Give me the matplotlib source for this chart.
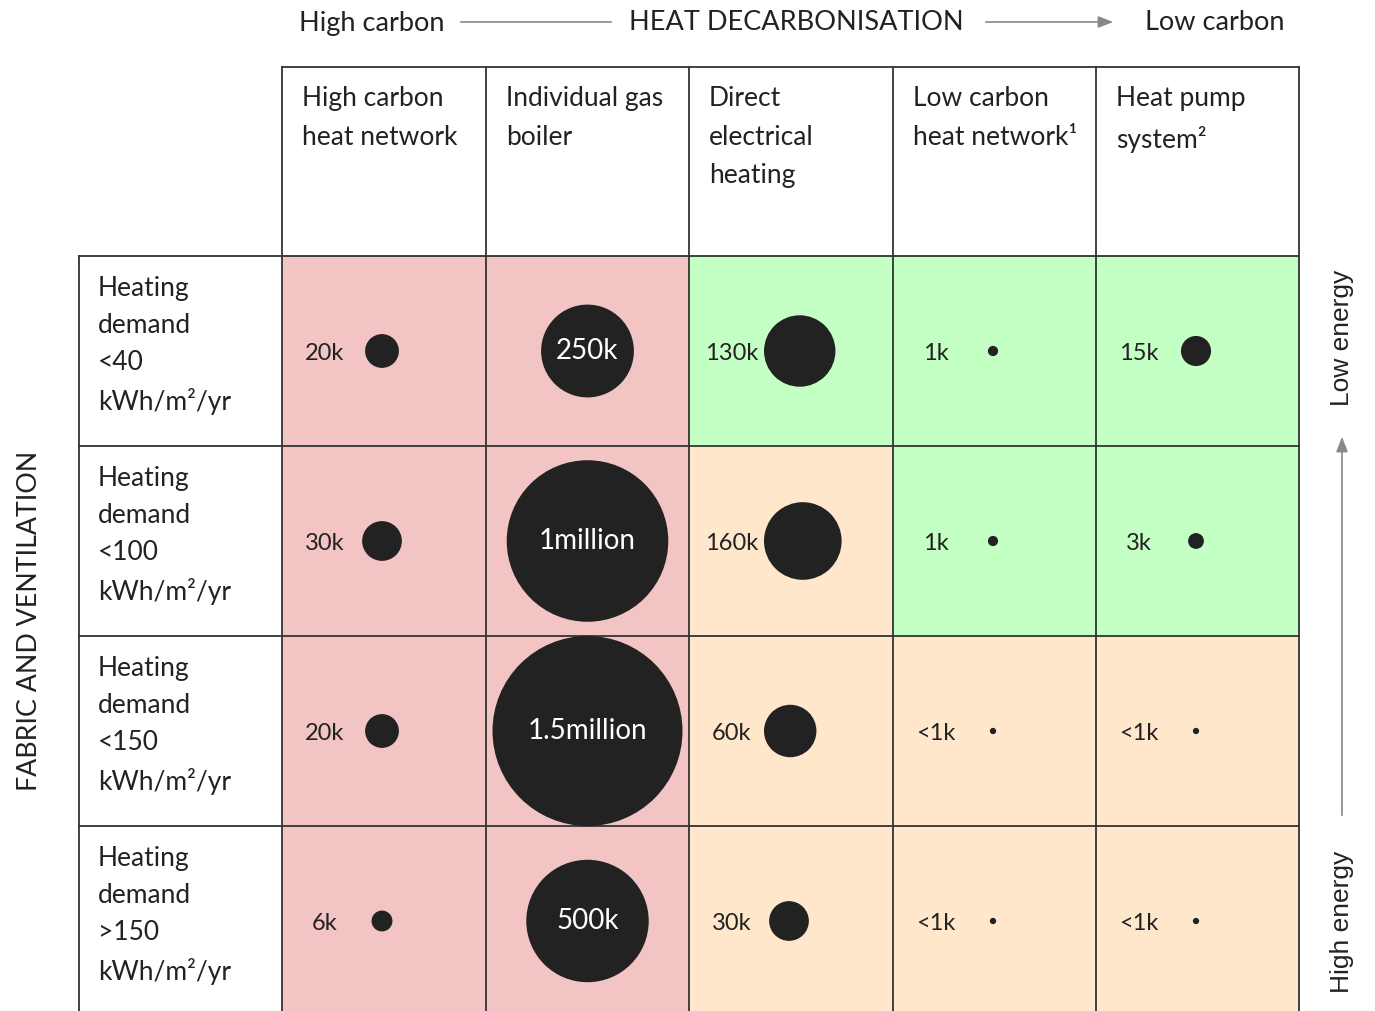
import matplotlib
matplotlib.use("Agg")
import matplotlib.pyplot as plt
from matplotlib.patches import Rectangle, Circle

plt.rcParams['font.family'] = ['Lato', 'DejaVu Sans']

# ---- data ----
columns = ["High carbon\nheat network", "Individual gas\nboiler", "Direct\nelectrical\nheating",
           "Low carbon\nheat network¹", "Heat pump\nsystem²"]
rows = ["Heating\ndemand\n<40\nkWh/m²/yr", "Heating\ndemand\n<100\nkWh/m²/yr",
        "Heating\ndemand\n<150\nkWh/m²/yr", "Heating\ndemand\n>150\nkWh/m²/yr"]

# number of homes, thousands (<1k drawn as 0.3k)
homes = [
    [20, 250, 130, 1, 15],
    [30, 1000, 160, 1, 3],
    [20, 1500, 60, 0.3, 0.3],
    [6, 500, 30, 0.3, 0.3],
]
labels = [
    ["20k", "250k", "130k", "1k", "15k"],
    ["30k", "1million", "160k", "1k", "3k"],
    ["20k", "1.5million", "60k", "<1k", "<1k"],
    ["6k", "500k", "30k", "<1k", "<1k"],
]
zones = [
    ["high", "high", "low", "low", "low"],
    ["high", "high", "mid", "low", "low"],
    ["high", "high", "mid", "mid", "mid"],
    ["high", "high", "mid", "mid", "mid"],
]

zone_colors = {"high": "#F2C4C4", "mid": "#FFE7CC", "low": "#C4FFC4"}
ink = "#222222"

# ---- layout (pixel coords) ----
W, H = 1375, 1011
col_x = [282, 486, 689, 893, 1096, 1299]
row_y = [256, 446, 636, 826, 1016]
head_top = 67
label_left = 79

fig = plt.figure(figsize=(W / 100, H / 100), dpi=100)
ax = fig.add_axes([0, 0, 1, 1])
ax.set_xlim(0, W)
ax.set_ylim(H, 0)
ax.axis("off")

# coloured cells
for i in range(len(rows)):
    for j in range(len(columns)):
        ax.add_patch(Rectangle((col_x[j], row_y[i]), col_x[j + 1] - col_x[j],
                               row_y[i + 1] - row_y[i], facecolor=zone_colors[zones[i][j]],
                               edgecolor="none", zorder=1))

# grid lines
lw = 1.3
lc = "#333333"
for x in col_x:
    ax.plot([x, x], [head_top, H], color=lc, lw=lw, zorder=2)
ax.plot([label_left, label_left], [row_y[0], H], color=lc, lw=lw, zorder=2)
ax.plot([col_x[0], col_x[-1]], [head_top, head_top], color=lc, lw=lw, zorder=2)
for y in row_y[:-1]:
    ax.plot([label_left, col_x[-1]], [y, y], color=lc, lw=lw, zorder=2)

# column headers
for j, name in enumerate(columns):
    ax.text(col_x[j] + 20, 86, name, fontsize=19, color=ink, va="top", ha="left",
            linespacing=1.68)

# row labels
for i, name in enumerate(rows):
    ax.text(label_left + 19, row_y[i] + 20, name, fontsize=19, color=ink, va="top",
            ha="left", linespacing=1.6)


def radius(v):
    return 95 * (v / 1500) ** 0.4


# bubbles
for i in range(len(rows)):
    cy = (row_y[i] + row_y[i + 1]) / 2
    for j in range(len(columns)):
        v = homes[i][j]
        r = radius(v)
        x0 = col_x[j]
        if v >= 250:
            cx = (x0 + col_x[j + 1]) / 2
            ax.add_patch(Circle((cx, cy), r, facecolor=ink, edgecolor="none", zorder=3))
            ax.text(cx, cy, labels[i][j], fontsize=20, color="white", ha="center",
                    va="center", zorder=4)
        else:
            cx = x0 + max(100, 75 + r)
            ax.add_patch(Circle((cx, cy), r, facecolor=ink, edgecolor="none", zorder=3))
            ax.text(x0 + 43, cy + 3, labels[i][j], fontsize=17, color=ink, ha="center",
                    va="center", zorder=4)

# top axis annotation
ax.text(372, 23, "High carbon", fontsize=19.5, color=ink, ha="center", va="center")
ax.plot([461, 611], [22, 22], color="#888888", lw=1.2)
ax.text(796, 23, "HEAT DECARBONISATION", fontsize=19.5, color=ink, ha="center", va="center")
ax.annotate("", xy=(1116, 22), xytext=(983, 22),
            arrowprops=dict(arrowstyle="-|>,head_length=0.9,head_width=0.35",
                            color="#888888", lw=1.2))
ax.text(1215, 23, "Low carbon", fontsize=19.5, color=ink, ha="center", va="center")

# left label
ax.text(30, 621, "FABRIC AND VENTILATION", fontsize=19.3, color=ink, rotation=90,
        ha="center", va="center")

# right axis annotation
ax.text(1342, 338, "Low energy", fontsize=19, color=ink, rotation=90, ha="center",
        va="center", family="Liberation Sans")
ax.annotate("", xy=(1342, 434), xytext=(1342, 818),
            arrowprops=dict(arrowstyle="-|>,head_length=0.9,head_width=0.35",
                            color="#888888", lw=1.2))
ax.text(1342, 922, "High energy", fontsize=19, color=ink, rotation=90, ha="center",
        va="center", family="Liberation Sans")

fig.savefig("out.png", dpi=100)
